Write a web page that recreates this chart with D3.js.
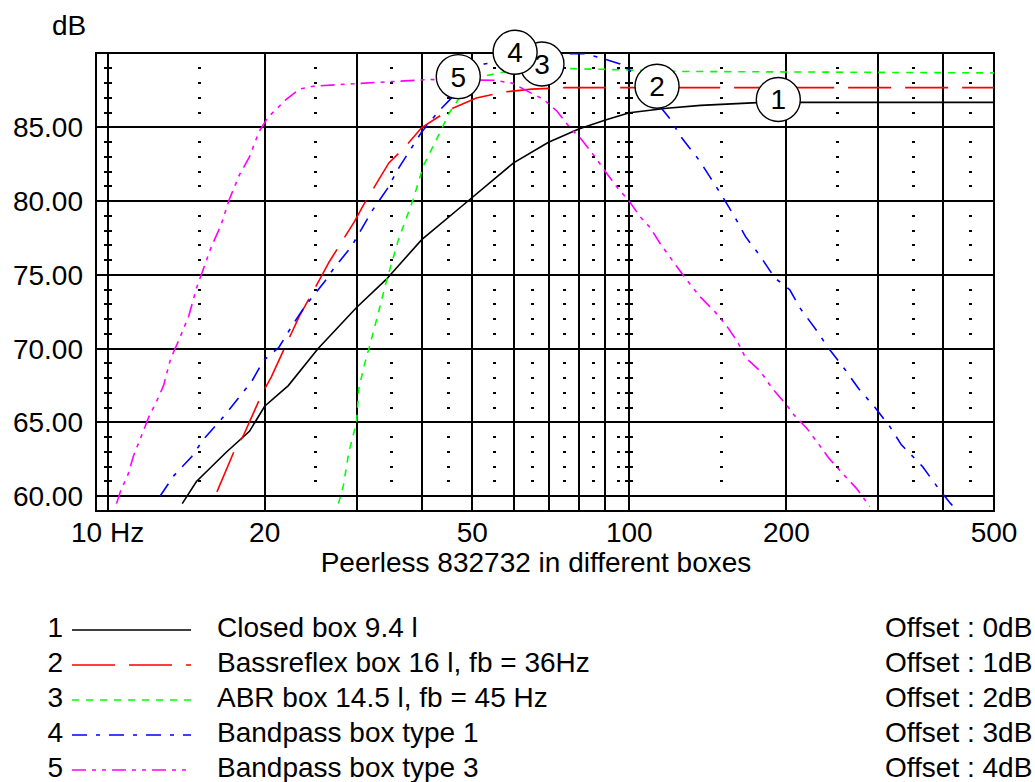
<!DOCTYPE html>
<html>
    <head>
        <title>Peerless 832732 in different boxes</title>
        <script src="https://d3js.org/d3.v7.min.js"></script>
        <style>
         body { margin: 0; background: #fff; }
         svg { display: block; font-family: "Liberation Sans", Arial, sans-serif; }
        </style>
    </head>
    <body>
        <svg width="1035" height="782"></svg>
        <script>
         // curves: [frequency Hz, level dB]
         const closedBox = [[13.9,59.5],[14.8,61.0],[16.9,63.0],[18.7,64.4],[20,66.1],[22.2,67.5],[25.3,70.0],[30,72.8],[34.2,74.7],[40,77.4],[49,80.0],[60,82.6],[70,84.0],[80,84.9],[90,85.5],[100,86.0],[118,86.3],[137,86.5],[180,86.7],[500,86.7]];
         const bassReflex = [[16.2,60.3],[17.5,63.1],[18.2,64.1],[19.8,67.0],[20.6,68.1],[22.4,70.9],[23.3,72.2],[25.5,74.7],[26.6,75.9],[29.7,78.6],[31.0,79.8],[34.6,82.6],[37.0,83.6],[40,85.0],[45.2,86.2],[50.9,87.0],[57.4,87.4],[65,87.6],[75,87.7],[500,87.7]];
         const abrBox = [[27.7,59.5],[28.3,60.7],[29.0,63.0],[30,65.0],[30.3,67.3],[31.0,68.8],[31.9,70.4],[32.9,72.2],[34.3,74.7],[36.1,77.4],[38.5,80.1],[40.3,82.4],[42.7,84.2],[45.2,86.0],[47,86.9],[50,87.9],[53,88.5],[60,88.9],[75,89.0],[100,88.9],[125,88.8],[500,88.7]];
         const bandpass1 = [[12.6,60.0],[13.4,61.4],[14.5,62.7],[15.3,63.9],[16.5,65.2],[17.4,66.2],[18.9,67.8],[19.9,69.2],[21.3,70.1],[22.7,71.7],[23.8,72.8],[26.0,74.5],[27.2,75.5],[29.3,76.9],[32.2,79.4],[34.3,80.8],[36.2,82.3],[37.9,83.4],[40,84.7],[43.1,86.1],[52.7,89.3],[65,89.8],[75,90.0],[82,90.0],[88.6,89.7],[96,89.3],[100,88.9],[102,88.6],[119,85.7],[126,84.3],[136,82.8],[143,81.6],[151,80.3],[160,78.8],[167,77.6],[178,76.3],[190,74.8],[203,74.0],[213,72.7],[229,71.2],[239,70.2],[259,68.6],[275,67.3],[296,66.0],[316,64.7],[332,63.5],[365,62.0],[390,60.6],[413,59.5],[423,59.1]];
         const bandpass3 = [[10.4,59.5],[10.6,60.4],[10.95,61.5],[11.2,62.7],[11.7,64.4],[12.0,65.4],[12.4,66.4],[12.8,67.5],[13.2,69.3],[13.7,70.6],[14.3,72.2],[14.8,74.1],[15.8,76.9],[16.5,78.4],[17.1,80.1],[17.9,81.8],[18.7,83.0],[19.5,84.7],[20.3,85.7],[22.0,86.9],[23.3,87.6],[24.8,87.8],[27.5,87.9],[34.6,88.1],[41.4,88.25],[55,88.2],[59.7,88.0],[64.3,87.4],[68.5,86.9],[72.7,86.1],[76.9,85.0],[80.9,84.2],[86,83.0],[90,82.0],[95,80.9],[100,80.0],[104.6,79.0],[109.7,78.2],[114.7,77.1],[122,75.8],[128,74.8],[136,73.6],[146,72.5],[154,71.5],[161,70.5],[167,69.4],[178,68.5],[188,67.3],[200,66.2],[207,65.5],[219,64.6],[231,63.5],[241,62.6],[257,61.5],[273,60.5],[289,59.3]];

         const seriesNames = ["Closed box 9.4 l", "Bassreflex box 16 l, fb = 36Hz", "ABR box 14.5 l, fb = 45 Hz", "Bandpass box type 1", "Bandpass box type 3"];
         const seriesOffsets = ["Offset : 0dB", "Offset : 1dB", "Offset : 2dB", "Offset : 3dB", "Offset : 4dB"];
         const seriesData = [closedBox, bassReflex, abrBox, bandpass1, bandpass3];

         // numbered circles sit on the curves
         const labelFreqs = [193, 113, 68, 60.4, 47];
         const labelLevels = [86.9, 87.8, 89.3, 90.1, 88.45];

         const xMajor = [10, 20, 30, 40, 50, 60, 70, 80, 90, 100, 200, 300, 400, 500];
         const xMinor = [15, 25, 35, 45, 55, 65, 75, 85, 95, 150, 250, 350, 450];
         const xTickLabels = [[10, "10 Hz"], [20, "20"], [50, "50"], [100, "100"], [200, "200"], [500, "500"]];
         const yMajor = [60, 65, 70, 75, 80, 85];
         const yMinor = d3.range(61, 90).filter(d => d % 5 !== 0);

         const styles = [
             {color: "#000000", dash: null},
             {color: "#ff0000", dash: "43,14"},
             {color: "#00ff00", dash: "7,7"},
             {color: "#0000ff", dash: "15,9,4,9"},
             {color: "#ff00ff", dash: "14,6,4,6,4,6"}
         ];

         const svg = d3.select("svg");
         const plot = {left: 96, right: 994, top: 53, bottom: 511};

         const x = d3.scaleLog().domain([9.5, 500]).range([plot.left, plot.right]);
         const y = d3.scaleLinear().domain([59, 90.05]).range([plot.bottom, plot.top]);

         svg.append("rect").attr("width", 1035).attr("height", 782).attr("fill", "#fff");

         svg.append("defs").append("clipPath").attr("id", "plot-clip")
            .append("rect")
            .attr("x", plot.left).attr("y", plot.top)
            .attr("width", plot.right - plot.left).attr("height", plot.bottom - plot.top);

         const grid = svg.append("g").attr("shape-rendering", "crispEdges");

         // minor dots
         xMinor.forEach(f => {
             grid.selectAll(null).data(yMinor).join("rect")
                 .attr("x", Math.round(x(f)) - 1).attr("y", d => Math.round(y(d)) - 1)
                 .attr("width", 3).attr("height", 2).attr("fill", "#000");
         });
         // small ticks on the decade lines
         [10, 100].forEach(f => {
             grid.selectAll(null).data(yMinor).join("line")
                 .attr("x1", Math.round(x(f)) - 4).attr("x2", Math.round(x(f)) + 4)
                 .attr("y1", d => Math.round(y(d))).attr("y2", d => Math.round(y(d)))
                 .attr("stroke", "#000").attr("stroke-width", 2);
         });

         grid.selectAll(null).data(xMajor).join("line")
             .attr("x1", d => Math.round(x(d))).attr("x2", d => Math.round(x(d)))
             .attr("y1", plot.top).attr("y2", plot.bottom)
             .attr("stroke", "#000").attr("stroke-width", 2);

         grid.selectAll(null).data(yMajor).join("line")
             .attr("x1", plot.left).attr("x2", plot.right)
             .attr("y1", d => Math.round(y(d))).attr("y2", d => Math.round(y(d)))
             .attr("stroke", "#000").attr("stroke-width", 2);

         grid.append("rect")
             .attr("x", plot.left).attr("y", plot.top)
             .attr("width", plot.right - plot.left).attr("height", plot.bottom - plot.top)
             .attr("fill", "none").attr("stroke", "#000").attr("stroke-width", 2);

         // curves
         const line = d3.line().x(d => x(d[0])).y(d => y(d[1]));
         svg.append("g").attr("clip-path", "url(#plot-clip)")
            .selectAll("path").data(seriesData).join("path")
            .attr("d", line)
            .attr("fill", "none")
            .attr("stroke", (d, i) => styles[i].color)
            .attr("stroke-width", 1.6)
            .attr("stroke-dasharray", (d, i) => styles[i].dash);

         // numbered circles
         const marks = svg.append("g").selectAll("g").data(labelFreqs).join("g")
             .attr("transform", (d, i) => `translate(${x(d)},${y(labelLevels[i])})`);
         marks.append("circle").attr("r", 22).attr("fill", "#fff")
              .attr("stroke", "#000").attr("stroke-width", 1.4);
         marks.append("text").attr("text-anchor", "middle").attr("y", 10)
              .attr("font-size", 28).text((d, i) => i + 1);

         // axis texts
         const txt = svg.append("g").attr("font-size", 28).attr("fill", "#000");
         txt.append("text").attr("x", 52).attr("y", 35).text("dB");
         txt.selectAll(null).data(yMajor).join("text")
            .attr("x", 83).attr("y", d => y(d) + 10)
            .attr("text-anchor", "end")
            .text(d => d.toFixed(2));
         txt.selectAll(null).data(xTickLabels).join("text")
            .attr("x", d => x(d[0])).attr("y", 542)
            .attr("text-anchor", "middle")
            .text(d => d[1]);
         txt.append("text").attr("x", 536).attr("y", 572)
            .attr("text-anchor", "middle")
            .text("Peerless 832732 in different boxes");

         // legend
         const rowY = i => 637 + 35 * i;
         const legend = svg.append("g").attr("font-size", 28);
         seriesNames.forEach((name, i) => {
             legend.append("text").attr("x", 63).attr("y", rowY(i)).attr("text-anchor", "end").text(i + 1);
             legend.append("line")
                   .attr("x1", 72).attr("x2", 191)
                   .attr("y1", rowY(i) - 7).attr("y2", rowY(i) - 7)
                   .attr("stroke", styles[i].color).attr("stroke-width", 1.6)
                   .attr("stroke-dasharray", styles[i].dash);
             legend.append("text").attr("x", 217).attr("y", rowY(i)).text(name);
             legend.append("text").attr("x", 885).attr("y", rowY(i)).text(seriesOffsets[i]);
         });
        </script>
    </body>
</html>
